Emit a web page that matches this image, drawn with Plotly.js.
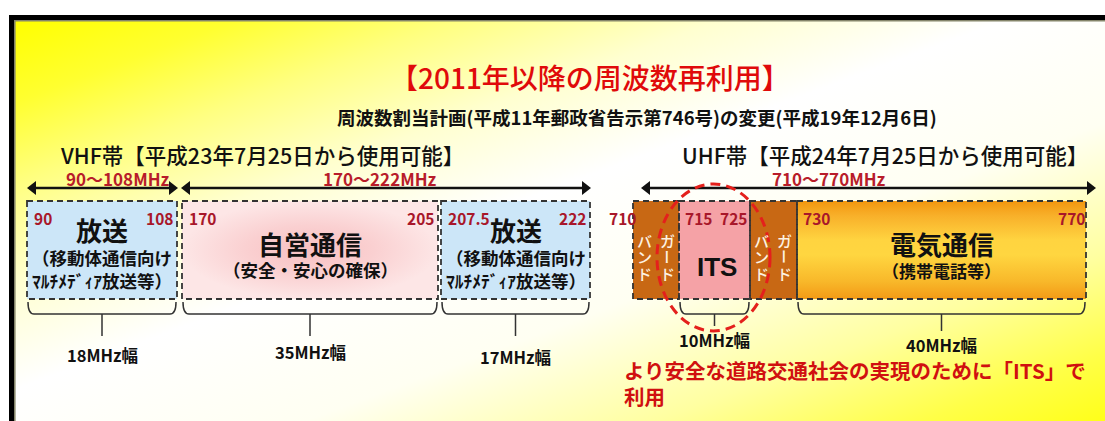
<!DOCTYPE html>
<html>
<head>
<meta charset="utf-8">
<script src="https://cdn.plot.ly/plotly-3.0.1.min.js"></script>
<style>
html,body{margin:0;padding:0;background:#ffffff;}
#chart{width:1105px;height:421px;}
</style>
</head>
<body>
<div id="chart"></div>
<script>
// ================= DATA =================
const titleText = '【2011年以降の周波数再利用】';
const subtitleText = '周波数割当計画(平成11年郵政省告示第746号)の変更(平成19年12月6日)';
const vhfHeading = 'VHF帯【平成23年7月25日から使用可能】';
const uhfHeading = 'UHF帯【平成24年7月25日から使用可能】';

const rangeLabels = ['90～108MHz', '170～222MHz', '710～770MHz'];
const rangeStart = [90, 170, 710];
const rangeEnd = [108, 222, 770];

const vhfNames = ['放送', '自営通信', '放送'];
const vhfNotes1 = ['（移動体通信向け', '（安全・安心の確保）', '（移動体通信向け'];
const vhfNotes2 = ['ﾏﾙﾁﾒﾃﾞｨｱ放送等）', '', 'ﾏﾙﾁﾒﾃﾞｨｱ放送等）'];
const vhfStart = [90, 170, 207.5];
const vhfEnd = [108, 205, 222];

const uhfNames = ['ガードバンド', 'ITS', 'ガードバンド', '電気通信'];
const uhfNotes = ['', '', '', '（携帯電話等）'];
const uhfStart = [710, 715, 725, 730];
const uhfEnd = [715, 725, 730, 770];

const spanStart = [90, 170, 205, 715, 730];
const spanEnd = [108, 205, 222, 725, 770];
const spanLabels = ['18MHz幅', '35MHz幅', '17MHz幅', '10MHz幅', '40MHz幅'];

const noteLines = ['より安全な道路交通社会の実現のために「ITS」で', '利用'];

// ================= LAYOUT (diagram is not to scale: frequency -> position) =================
const freqPx = {90:27, 108:177, 170:182, 205:438, 207.5:441, 222:590,
                710:633, 715:679, 725:750, 730:797, 770:1086};
const px = f => freqPx[f];
const boxTop = 201, boxBot = 299;
const FONT = '"Noto Sans CJK JP", "Noto Sans CJK SC", sans-serif';
const RED_NUM = '#a8172a';
const RED_RANGE = '#b81c2a';

const ann = [];
const shapes = [];
const traces = [];

function T(text, x, y, size, color, weight, xanchor, extra) {
  ann.push(Object.assign({
    text: text, x: x, y: y, xref: 'x', yref: 'y', showarrow: false,
    xanchor: xanchor || 'center', yanchor: 'middle',
    font: {family: FONT, size: size, color: color, weight: weight || 400}
  }, extra || {}));
}
function rectTrace(x0, x1, y0, y1, fillOpts) {
  traces.push(Object.assign({
    type: 'scatter', mode: 'lines', x: [x0, x1, x1, x0, x0], y: [y0, y0, y1, y1, y0],
    line: {width: 0}, fill: 'toself', hoverinfo: 'skip', showlegend: false
  }, fillOpts));
}
function dashedBox(x0, x1) {
  shapes.push({type: 'rect', xref: 'x', yref: 'y', x0: x0, x1: x1, y0: boxTop, y1: boxBot,
    line: {color: '#333333', width: 1.8, dash: '6px,4px'}, fillcolor: 'rgba(0,0,0,0)', layer: 'above'});
}

// ---- background gradient & frame ----
const bgSvg = '<svg xmlns="http://www.w3.org/2000/svg" width="1100" height="410" viewBox="0 0 1100 410" preserveAspectRatio="none">' +
  '<defs><linearGradient id="g" x1="0" y1="0" x2="1" y2="1">' +
  '<stop offset="0" stop-color="#ffff00"/><stop offset="0.1" stop-color="#ffff30"/>' +
  '<stop offset="0.2" stop-color="#ffff80"/><stop offset="0.32" stop-color="#ffffd0"/>' +
  '<stop offset="0.45" stop-color="#ffffff"/><stop offset="0.62" stop-color="#fffff2"/>' +
  '<stop offset="0.78" stop-color="#ffffa0"/><stop offset="0.9" stop-color="#ffff48"/>' +
  '<stop offset="1" stop-color="#ffff10"/></linearGradient></defs>' +
  '<rect width="1100" height="410" fill="url(#g)"/></svg>';

shapes.push({type: 'rect', xref: 'x', yref: 'y', x0: 11.5, y0: 17.5, x1: 1140, y1: 460,
  line: {color: '#000000', width: 5}, fillcolor: 'rgba(0,0,0,0)', layer: 'above'});
shapes.push({type: 'rect', xref: 'x', yref: 'y', x0: 14.8, y0: 20.8, x1: 1140, y1: 460,
  line: {color: '#85856a', width: 1.6}, fillcolor: 'rgba(0,0,0,0)', layer: 'above'});

// ---- titles ----
T(titleText, 590, 77, 28, '#e00a0a', 500);
T(subtitleText, 637, 117, 18.5, '#111111', 700);
T(vhfHeading, 58, 154, 21.5, '#111111', 500, 'left');
T(uhfHeading, 680, 154, 21.5, '#111111', 500, 'left');

// ---- range arrows (line shapes + triangle markers) ----
const arrowPad = [[1, 0], [0, 0], [9, 9]];
const rangeLabelX = [118, 380, 829];
const arrowY = 188;
const headX = [], headSym = [];
rangeLabels.forEach(function (lab, i) {
  const xa = px(rangeStart[i]) + arrowPad[i][0];
  const xb = px(rangeEnd[i]) + arrowPad[i][1];
  shapes.push({type: 'line', xref: 'x', yref: 'y', x0: xa + 6, x1: xb - 6, y0: arrowY, y1: arrowY,
    line: {color: '#111111', width: 2.4}, layer: 'above'});
  headX.push(xa + 5, xb - 5);
  headSym.push('triangle-left', 'triangle-right');
  T(lab, rangeLabelX[i], 178, 17, RED_RANGE, 700);
});

// ---- VHF boxes ----
const vhfNameY = [229, 243, 229];
vhfStart.forEach(function (s, i) {
  const x0 = px(s), x1 = px(vhfEnd[i]);
  if (i === 1) {
    rectTrace(x0, x1, boxTop, boxBot, {fillgradient: {type: 'radial', colorscale: [[0, '#f8bfc1'], [0.5, '#fad0d1'], [1, '#fde6e6']]}});
  } else {
    rectTrace(x0, x1, boxTop, boxBot, {fillcolor: '#cce6f8'});
  }
  dashedBox(x0, x1);
  const xc = (x0 + x1) / 2;
  T(vhfNames[i], xc, vhfNameY[i], 26, '#111111', 700);
  if (vhfNotes2[i]) {
    T(vhfNotes1[i] + '<br>' + vhfNotes2[i], xc, 269, 17.5, '#111111', 700);
  } else {
    T(vhfNotes1[i], xc, 269, 17.5, '#111111', 700);
  }
  T(String(s), x0 + 5, 218, 15.5, RED_NUM, 700, 'left');
  T(String(vhfEnd[i]), x1 - 2, 218, 15.5, RED_NUM, 700, 'right');
});

// ---- UHF boxes ----
uhfStart.forEach(function (s, i) {
  const x0 = px(s), x1 = px(uhfEnd[i]);
  const xc = (x0 + x1) / 2;
  if (uhfNames[i] === 'ガードバンド') {
    rectTrace(x0, x1, boxTop, boxBot, {fillcolor: '#c86814'});
    // vertical text: right column first ("ガード"), then left column ("バンド")
    const chars = uhfNames[i].split('');
    const colR = chars.slice(0, 3), colL = chars.slice(3);
    [colR, colL].forEach(function (col, c) {
      col.forEach(function (ch, k) {
        T(ch, xc + (c === 0 ? 11 : -12), 240 + k * 16.5, 15, '#fdf2e2', 500, 'center',
          ch === 'ー' ? {textangle: 90} : {});
      });
    });
  } else if (uhfNames[i] === 'ITS') {
    rectTrace(x0, x1, boxTop, boxBot, {fillcolor: '#f5a2a6'});
    T(uhfNames[i], xc + 2, 267, 26, '#111111', 700, 'center');
    ann[ann.length - 1].font.family = '"Liberation Sans", Arial, sans-serif';
    T(String(s), x0 + 4, 218, 15.5, RED_NUM, 700, 'left');
    T(String(uhfEnd[i]), x1 - 1, 218, 15.5, RED_NUM, 700, 'right');
  } else {
    rectTrace(x0, x1, boxTop, boxBot, {fillgradient: {type: 'vertical',
      colorscale: [[0, '#f39a16'], [0.18, '#f8b82a'], [0.45, '#ffd640'], [0.6, '#ffd440'], [0.85, '#f8b02a'], [1, '#f3960f']]}});
    T(uhfNames[i], xc, 243, 26, '#111111', 700);
    T(uhfNotes[i], xc, 270, 17, '#111111', 700);
    T(String(s), x0 + 4, 218, 15.5, RED_NUM, 700, 'left');
    T(String(uhfEnd[i]), x1 + 1, 218, 15.5, RED_NUM, 700, 'right');
  }
  if (i === 0) T(String(s), x0 + 5, 218, 15.5, RED_NUM, 700, 'right');
  dashedBox(x0, x1);
});

// arrowheads
traces.push({type: 'scatter', mode: 'markers', x: headX, y: headX.map(function () { return arrowY; }),
  marker: {symbol: headSym, size: 12, color: '#111111', line: {width: 0}},
  hoverinfo: 'skip', showlegend: false, cliponaxis: false});

// ---- braces ----
const braceTip = [336, 336, 336, 326, 331];
const spanLabelY = [355, 352, 357, 340, 345];
spanLabels.forEach(function (lab, i) {
  let x0 = px(spanStart[i]) + 1, x1 = px(spanEnd[i]) - 1;
  if (spanStart[i] === 205) x0 = px(207.5) + 1;
  const xm = (x0 + x1) / 2, yTop = 302, yMid = 314, r = 6;
  const path = 'M' + x0 + ',' + yTop + ' Q' + x0 + ',' + yMid + ' ' + (x0 + r) + ',' + yMid +
    ' L' + (x1 - r) + ',' + yMid + ' Q' + x1 + ',' + yMid + ' ' + x1 + ',' + yTop +
    ' M' + xm + ',' + yMid + ' L' + xm + ',' + braceTip[i];
  shapes.push({type: 'path', xref: 'x', yref: 'y', path: path, line: {color: '#333333', width: 1.5}, layer: 'above'});
  T(lab, xm, spanLabelY[i], 16.5, '#111111', 700);
});

// ---- ITS highlight ellipse ----
shapes.push({type: 'circle', xref: 'x', yref: 'y', x0: 657, x1: 770, y0: 184, y1: 331,
  line: {color: '#e4201c', width: 3, dash: '10px,6px'}, fillcolor: 'rgba(0,0,0,0)', layer: 'above'});

// ---- note ----
T(noteLines[0], 622, 370, 20.5, '#d01010', 700, 'left');
T(noteLines[1], 622, 396, 20.5, '#d01010', 700, 'left');

const layout = {
  width: 1105, height: 421,
  margin: {l: 0, r: 0, t: 0, b: 0, pad: 0},
  paper_bgcolor: '#ffffff', plot_bgcolor: 'rgba(0,0,0,0)',
  showlegend: false,
  xaxis: {range: [0, 1105], visible: false, fixedrange: true},
  yaxis: {range: [421, 0], visible: false, fixedrange: true},
  images: [{source: 'data:image/svg+xml;charset=utf-8,' + encodeURIComponent(bgSvg),
    xref: 'paper', yref: 'paper', x: 14 / 1105, y: 1 - 21 / 421, sizex: 1100 / 1105, sizey: 410 / 421,
    xanchor: 'left', yanchor: 'top', sizing: 'stretch', layer: 'below'}],
  shapes: shapes,
  annotations: ann
};

Plotly.newPlot('chart', traces, layout, {displayModeBar: false, staticPlot: true});
</script>
</body>
</html>
